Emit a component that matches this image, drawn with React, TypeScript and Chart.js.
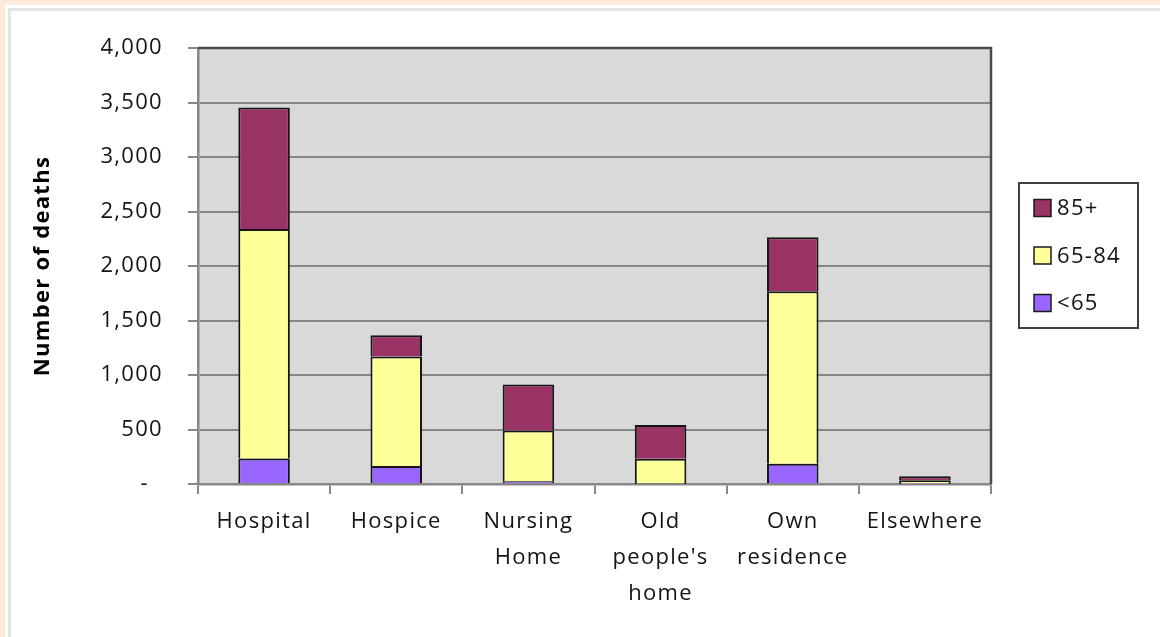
import React, { useEffect, useRef } from 'react';
import { Chart, registerables } from 'chart.js';

Chart.register(...registerables);

const categories: string[][] = [
  ['Hospital'],
  ['Hospice'],
  ['Nursing', 'Home'],
  ['Old', "people's", 'home'],
  ['Own', 'residence'],
  ['Elsewhere'],
];
const seriesLabels = ['<65', '65-84', '85+'];
const under65 = [235, 164, 25, 3, 185, 2];
const age65to84 = [2105, 1005, 465, 228, 1583, 32];
const age85plus = [1115, 195, 423, 310, 496, 38];
const yMin = 0;
const yMax = 4000;
const yStep = 500;

const COLORS = ['#9966ff', '#ffff99', '#993366'];
const FONT = '"Open Sans", "Noto Sans", sans-serif';
const TEXT = '#141414';
const GRID = '#878787';

const framePlugin = {
  id: 'frame',
  beforeDraw(chart: any) {
    const ctx = chart.ctx;
    ctx.letterSpacing = '1.3px';
    const a = chart.chartArea;
    ctx.save();
    ctx.fillStyle = '#d9d9d9';
    ctx.fillRect(a.left, a.top, a.right - a.left, a.bottom - a.top);
    ctx.restore();
  },
  afterDraw(chart: any) {
    const ctx = chart.ctx;
    const a = chart.chartArea;
    ctx.save();
    ctx.strokeStyle = '#4a4a4a';
    ctx.lineWidth = 2.5;
    ctx.beginPath();
    ctx.moveTo(a.left, a.top);
    ctx.lineTo(a.right, a.top);
    ctx.lineTo(a.right, a.bottom);
    ctx.stroke();

    const bx = a.right + 28;
    const by = 183;
    const bw = 119;
    const bh = 145;
    ctx.fillStyle = '#ffffff';
    ctx.fillRect(bx, by, bw, bh);
    ctx.strokeStyle = '#404040';
    ctx.lineWidth = 2;
    ctx.strokeRect(bx, by, bw, bh);
    const ds = chart.data.datasets.slice().reverse();
    ds.forEach((d: any, i: number) => {
      const cy = by + 25 + i * 47.5;
      ctx.fillStyle = d.backgroundColor;
      ctx.fillRect(bx + 15, cy - 8.5, 17, 17);
      ctx.strokeStyle = '#1a1a1a';
      ctx.lineWidth = 1.5;
      ctx.strokeRect(bx + 15, cy - 8.5, 17, 17);
      ctx.fillStyle = TEXT;
      ctx.font = '22px ' + FONT;
      ctx.textAlign = 'left';
      ctx.textBaseline = 'middle';
      ctx.fillText(d.label, bx + 38, cy + 1);
    });
    ctx.restore();
  },
};

export default function App() {
  const ref = useRef<HTMLCanvasElement | null>(null);

  useEffect(() => {
    if (!ref.current) return;
    const data = [under65, age65to84, age85plus];
    const chart = new Chart(ref.current, {
      type: 'bar',
      data: {
        labels: categories,
        datasets: seriesLabels.map((l, i) => ({
          label: l,
          data: data[i],
          backgroundColor: COLORS[i],
          borderColor: '#151515',
          borderWidth: 2,
          borderSkipped: 'start',
          barPercentage: 0.39,
          categoryPercentage: 1,
        })),
      },
      options: {
        animation: false,
        responsive: false,
        layout: { padding: { left: 0, top: 48, right: 169, bottom: 0 } },
        plugins: {
          legend: { display: false },
          tooltip: { enabled: false },
        },
        scales: {
          x: {
            stacked: true,
            afterFit: (s: any) => {
              s.height = 153;
            },
            grid: {
              offset: true,
              drawOnChartArea: false,
              drawTicks: true,
              tickLength: 10,
              color: GRID,
              lineWidth: 2,
            },
            border: { display: true, color: GRID, width: 2.5 },
            ticks: {
              color: TEXT,
              padding: 10,
              maxRotation: 0,
              autoSkip: false,
              font: { family: FONT, size: 22, lineHeight: 36 / 22 },
            },
          },
          y: {
            stacked: true,
            min: yMin,
            max: yMax,
            afterFit: (s: any) => {
              s.width = 198;
            },
            grid: {
              color: GRID,
              lineWidth: 2,
              tickLength: 10,
              drawTicks: true,
            },
            border: { display: true, color: GRID, width: 2.5 },
            ticks: {
              stepSize: yStep,
              color: TEXT,
              padding: 25,
              font: { family: FONT, size: 22 },
              callback: (v: any) => (Number(v) === 0 ? '-  ' : Number(v).toLocaleString('en-US')),
            },
            title: {
              display: true,
              text: 'Number of deaths',
              color: '#000',
              font: { family: FONT, size: 22, weight: 'bold' },
              padding: { top: 30, bottom: 0 },
            },
          },
        },
      },
      plugins: [framePlugin],
    } as any);
    return () => chart.destroy();
  }, []);

  return (
    <div style={{ position: 'fixed', left: 0, top: 0, width: 1160, height: 637, background: '#fff', overflow: 'hidden' }}>
      <div style={{ position: 'absolute', left: 0, top: 0, width: 1160, height: 5, background: '#fde9da' }} />
      <div style={{ position: 'absolute', left: 0, top: 0, width: 5, height: 637, background: '#fde9da' }} />
      <div style={{ position: 'absolute', left: 8, top: 8, width: 1152, height: 3, background: '#e4e4e4' }} />
      <div style={{ position: 'absolute', left: 8, top: 8, width: 3, height: 629, background: '#e4e4e4' }} />
      <canvas ref={ref} width={1160} height={637} style={{ position: 'absolute', left: 0, top: 0, width: 1160, height: 637 }} />
    </div>
  );
}
